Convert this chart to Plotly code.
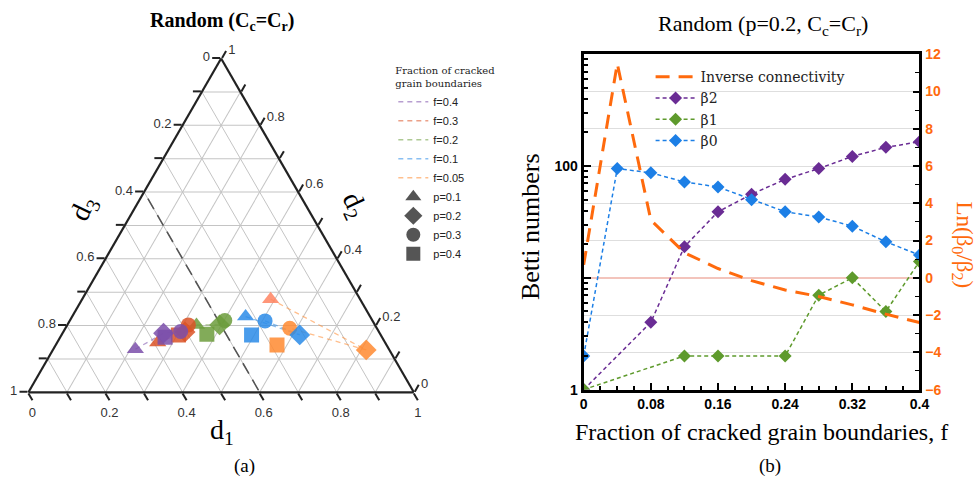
import plotly.graph_objects as go

# ---------------- Ternary panel (a): composition of d1, d2, d3 ----------------
p_labels = ["p=0.1", "p=0.2", "p=0.3", "p=0.4"]
p_symbols = ["triangle-up", "diamond", "circle", "square"]

f_labels = ["f=0.4", "f=0.3", "f=0.2", "f=0.1", "f=0.05"]
f_colors = ["#7B4FAA", "#DA5226", "#6C9C3C", "#2A8BE8", "#FF8A30"]

# values per f, ordered p=0.1, 0.2, 0.3, 0.4
d1_f040 = [0.213, 0.262, 0.304, 0.272]
d2_f040 = [0.129, 0.177, 0.182, 0.165]
d3_f040 = [0.658, 0.561, 0.514, 0.563]

d1_f030 = [0.261, 0.316, 0.314, 0.303]
d2_f030 = [0.149, 0.181, 0.202, 0.172]
d3_f030 = [0.590, 0.503, 0.484, 0.525]

d1_f020 = [0.335, 0.395, 0.402, 0.376]
d2_f020 = [0.202, 0.202, 0.215, 0.174]
d3_f020 = [0.463, 0.403, 0.383, 0.450]

d1_f010 = [0.450, 0.618, 0.507, 0.493]
d2_f010 = [0.227, 0.172, 0.214, 0.172]
d3_f010 = [0.323, 0.210, 0.279, 0.335]

d1_f005 = [0.489, 0.813, 0.582, 0.574]
d2_f005 = [0.279, 0.127, 0.192, 0.142]
d3_f005 = [0.232, 0.060, 0.226, 0.284]

d1_sets = [d1_f040, d1_f030, d1_f020, d1_f010, d1_f005]
d2_sets = [d2_f040, d2_f030, d2_f020, d2_f010, d2_f005]
d3_sets = [d3_f040, d3_f030, d3_f020, d3_f010, d3_f005]

# reference line d3 = 0.4
cut_d1 = [0.02, 0.60]
cut_d2 = [0.58, 0.00]
cut_d3 = [0.40, 0.40]

tern_tickvals = [0, 0.1, 0.2, 0.3, 0.4, 0.5, 0.6, 0.7, 0.8, 0.9, 1.0]
tern_ticktext = ["1", "", "0.8", "", "0.6", "", "0.4", "", "0.2", "", "0"]

# ---------------- Line panel (b): Betti numbers vs f ----------------
f_vals = [0, 0.04, 0.08, 0.12, 0.16, 0.20, 0.24, 0.28, 0.32, 0.36, 0.40]
beta0 = [2, 95, 87, 72, 65, 50, 39, 35, 29, 21, 16]
beta1 = [1, None, None, 2, 2, None, 2, 7, 10, 5, 14]
beta2 = [1, None, 4, 19, 39, 56, 76, 95, 122, 147, 165]
inv_conn = [0.7, 11.5, 3.1, 1.35, 0.5, -0.15, -0.65, -1.0, -1.45, -1.95, -2.4]

x_tickvals = [0, 0.08, 0.16, 0.24, 0.32, 0.4]
x_ticktext = ["0", "0.08", "0.16", "0.24", "0.32", "0.4"]
y_tickvals = [1, 10, 100, 1000]
y_ticktext = ["1", "", "100", ""]
y2_tickvals = [-6, -4, -2, 0, 2, 4, 6, 8, 10, 12]

SERIF = "Liberation Serif"
SERIF_WIDE = "DejaVu Serif"
SANS = "Liberation Sans"
ORANGE = "#FF6A0D"

W, H = 976, 488


# layout positions are given in page pixels and converted to paper fractions
def px(x):
    return ((x - 6.5) / 0.976) / W


def py(y):
    return 1 - ((y - 6.5) / 0.972) / H


fig = go.Figure()

# a = d2 (top vertex), b = d3 (bottom-left), c = d1 (bottom-right)
fig.add_trace(go.Scatterternary(
    a=cut_d2, b=cut_d3, c=cut_d1, mode="lines", subplot="ternary3",
    line=dict(color="#555555", width=1.6, dash="12px,7px"),
    showlegend=False, hoverinfo="skip"))

for i in range(len(f_labels) - 1, -1, -1):
    col = f_colors[i]
    fig.add_trace(go.Scatterternary(
        a=d2_sets[i][:3], b=d3_sets[i][:3], c=d1_sets[i][:3],
        mode="lines", subplot="ternary3", name=f_labels[i], legend="legend",
        line=dict(color=col, width=1.3, dash="5px,4px"), opacity=0.55,
        legendrank=10 + i))
for i in range(len(f_labels) - 1, -1, -1):
    col = f_colors[i]
    colors = [col] * 4
    if f_labels[i] == "f=0.05":
        colors[0] = "#FF8462"
    fig.add_trace(go.Scatterternary(
        a=d2_sets[i], b=d3_sets[i], c=d1_sets[i],
        mode="markers", subplot="ternary3", showlegend=False,
        marker=dict(symbol=p_symbols, size=[15, 16, 15, 15], color=colors,
                    opacity=0.85, line=dict(width=0))))

# legend entries for the marker shapes (p values)
for k in range(4):
    fig.add_trace(go.Scatter(
        x=[None], y=[None], mode="markers", xaxis="x", yaxis="y", name=p_labels[k],
        legend="legend", legendrank=20 + k,
        marker=dict(symbol=p_symbols[k], size=14, color="#555555")))

# right panel traces
fig.add_trace(go.Scatter(
    x=f_vals, y=inv_conn, mode="lines", yaxis="y2", xaxis="x",
    name="Inverse connectivity", legend="legend2", legendrank=1,
    line=dict(color=ORANGE, width=3, dash="14px,9px")))
for name, vals, col, rank in [("β2", beta2, "#6A2C94", 2),
                              ("β1", beta1, "#5E9A2C", 3),
                              ("β0", beta0, "#1C7FE6", 4)]:
    fig.add_trace(go.Scatter(
        x=f_vals, y=vals, mode="lines+markers", xaxis="x", yaxis="y",
        connectgaps=True, name=name, legend="legend2", legendrank=rank,
        line=dict(color=col, width=1.5, dash="4px,3px"),
        marker=dict(symbol="diamond", size=10, color=col)))

dom = dict(x=[px(27.3), px(415.7)], y=[py(392.7), py(57.3)])


def tern_axis(**kw):
    base = dict(tickvals=tern_tickvals, title=dict(text=""), min=0,
                showline=False, showticklabels=False, ticks="", showgrid=True)
    base.update(kw)
    return base


fine_vals = [i / 40 for i in range(41)]
mid_vals = [i / 20 for i in range(21)]

fine = dict(tickvals=fine_vals, gridcolor="#e2e2e2", gridwidth=0.8)
mid = dict(tickvals=mid_vals, showgrid=False, ticks="outside", ticklen=5,
           tickwidth=1.5, tickcolor="#222222")
major = dict(tickvals=tern_tickvals, ticktext=tern_ticktext, showticklabels=True,
             gridcolor="#c4c4c4", gridwidth=1, ticks="outside", ticklen=8,
             tickwidth=1.8, tickcolor="#222222", showline=True, linecolor="#222222",
             linewidth=2.2, tickfont=dict(family=SANS, size=13, color="#333333"))


def note(text, x, y, size, angle=0, color="black"):
    return dict(text=text, x=px(x), y=py(y), xref="paper", yref="paper",
                xanchor="center", yanchor="middle", showarrow=False, textangle=angle,
                font=dict(family=SERIF, size=size, color=color))


fig.update_layout(
    width=W, height=H, margin=dict(l=0, r=0, t=0, b=0),
    paper_bgcolor="white", plot_bgcolor="rgba(0,0,0,0)",
    ternary=dict(sum=1, domain=dom, bgcolor="white",
                 aaxis=tern_axis(**fine), baxis=tern_axis(**fine), caxis=tern_axis(**fine)),
    ternary2=dict(sum=1, domain=dom, bgcolor="rgba(0,0,0,0)",
                  aaxis=tern_axis(**mid), baxis=tern_axis(**mid), caxis=tern_axis(**mid)),
    ternary3=dict(sum=1, domain=dom, bgcolor="rgba(0,0,0,0)",
                  aaxis=tern_axis(**major), baxis=tern_axis(**major), caxis=tern_axis(**major)),
    xaxis=dict(domain=[px(580.5), px(913)], range=[0, 0.4], anchor="y",
               tickmode="array", tickvals=x_tickvals, ticktext=x_ticktext,
               ticks="inside", ticklen=7, tickwidth=2, tickcolor="black",
               minor=dict(tickmode="linear", tick0=0, dtick=0.02, ticks="inside",
                          ticklen=4, tickwidth=1.5, tickcolor="black"),
               showline=True, linewidth=3, linecolor="black", mirror=True,
               showgrid=False, zeroline=False,
               tickfont=dict(family=SANS, size=14, color="black", weight="bold")),
    yaxis=dict(domain=[py(390), py(53)], type="log", range=[0, 3], anchor="x",
               tickmode="array", tickvals=y_tickvals, ticktext=y_ticktext,
               ticks="inside", ticklen=7, tickwidth=2, tickcolor="black",
               minor=dict(tickmode="array",
                          tickvals=[m * 10 ** e for e in range(3) for m in range(2, 10)],
                          ticks="inside", ticklen=4, tickwidth=1.5, tickcolor="black"),
               showline=True, linewidth=3, linecolor="black", showgrid=False,
               zeroline=False,
               tickfont=dict(family=SANS, size=14, color="black", weight="bold")),
    yaxis2=dict(overlaying="y", side="right", anchor="x", range=[-6, 12],
                tickmode="array", tickvals=y2_tickvals,
                ticks="inside", ticklen=6, tickwidth=1.5, tickcolor="black",
                minor=dict(tickmode="linear", tick0=-6, dtick=1, ticks="inside",
                           ticklen=4, tickwidth=1, tickcolor="black"),
                showline=True, linewidth=3, linecolor="black",
                showgrid=True, gridcolor="#dedede", gridwidth=1,
                zeroline=True, zerolinecolor="#F3C4BC", zerolinewidth=1.5,
                tickfont=dict(family=SANS, size=14, color=ORANGE, weight="bold")),
    legend=dict(x=px(392), y=py(60), xanchor="left", yanchor="top",
                bgcolor="rgba(0,0,0,0)", tracegroupgap=0, itemwidth=30,
                title=dict(text="Fraction of cracked<br>grain boundaries",
                           font=dict(family=SERIF_WIDE, size=10, color="#222222")),
                font=dict(family=SANS, size=11, color="#222222")),
    legend2=dict(x=656 / W, y=1 - 55 / H, xanchor="left", yanchor="top",
                 bgcolor="rgba(0,0,0,0)", tracegroupgap=0, itemwidth=40,
                 font=dict(family=SERIF_WIDE, size=14, color="#222222")),
    annotations=[
        note("<b>Random (C<sub>c</sub>=C<sub>r</sub>)</b>", 222, 20, 20),
        note("Random (p=0.2, C<sub>c</sub>=C<sub>r</sub>)", 758, 24, 22),
        note("Fraction of cracked grain boundaries, f", 757, 433, 24),
        note("Betti numbers", 528, 226, 26, angle=-90),
        note("Ln(β<sub>0</sub>/β<sub>2</sub>)", 956, 245, 23, angle=90, color=ORANGE),
        note("d<sub>1</sub>", 222, 432, 28),
        note("d<sub>2</sub>", 353, 205, 28, angle=65),
        note("d<sub>3</sub>", 86, 208, 28, angle=-65),
        note("(a)", 245, 467, 19),
        note("(b)", 765, 467, 19),
    ],
)

fig.write_html("out.html")
